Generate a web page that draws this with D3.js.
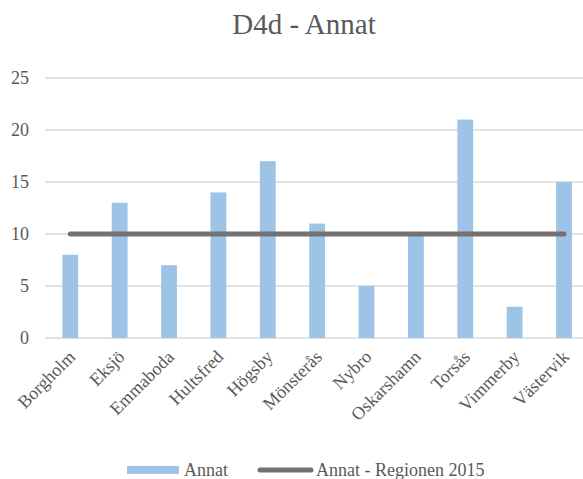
<!DOCTYPE html>
<html><head><meta charset="utf-8">
<script src="https://cdn.jsdelivr.net/npm/d3@7"></script>
<style>body{margin:0;background:#fff}svg{display:block}</style>
</head><body>
<script>
const categories = ["Borgholm","Eksjö","Emmaboda","Hultsfred","Högsby","Mönsterås","Nybro","Oskarshamn","Torsås","Vimmerby","Västervik"];
const annat = [8,13,7,14,17,11,5,10,21,3,15];
const regionen = [10,10,10,10,10,10,10,10,10,10,10];
const yTicks = [0,5,10,15,20,25];
const title = "D4d - Annat";
const seriesNames = ["Annat","Annat - Regionen 2015"];

const FONT = "'Liberation Serif', 'Times New Roman', Tinos, 'DejaVu Serif', serif";
const W=583,H=479;
const svg=d3.select("body").append("svg").attr("width",W).attr("height",H).style("font-family",FONT);
const x=d3.scaleBand().domain(categories).range([45.6,588.7]).paddingInner(0.68).paddingOuter(0.34);
const y=d3.scaleLinear().domain([0,25]).range([338,78]);

svg.append("text").attr("x",304).attr("y",34).attr("text-anchor","middle").attr("font-size",29).attr("fill","#595959").text(title);

svg.append("g").selectAll("line").data(yTicks).join("line")
  .attr("x1",45).attr("x2",W).attr("y1",d=>y(d)).attr("y2",d=>y(d))
  .attr("stroke","#d9d9d9").attr("stroke-width",1.3);
svg.append("g").selectAll("text").data(yTicks).join("text")
  .attr("x",29).attr("y",d=>y(d)+6).attr("text-anchor","end").attr("font-size",18).attr("fill","#595959").text(d=>d);

svg.append("g").selectAll("rect").data(annat).join("rect")
  .attr("x",(d,i)=>x(categories[i])).attr("width",x.bandwidth())
  .attr("y",d=>y(d)).attr("height",d=>y(0)-y(d)).attr("fill","#9dc3e6");

const line=d3.line().x((d,i)=>x(categories[i])+x.bandwidth()/2).y(d=>y(d));
svg.append("path").datum(regionen).attr("d",line).attr("fill","none")
  .attr("stroke","#767171").attr("stroke-width",5).attr("stroke-linecap","round");

svg.append("g").selectAll("text").data(categories).join("text")
  .attr("transform",d=>`translate(${x(d)+x.bandwidth()/2+6},${358}) rotate(-45)`)
  .attr("text-anchor","end").attr("font-size",18).attr("fill","#595959").text(d=>d);

// legend
const lg=svg.append("g");
lg.append("rect").attr("x",127).attr("y",466).attr("width",52).attr("height",8).attr("fill","#9dc3e6");
lg.append("text").attr("x",184).attr("y",476).attr("font-size",18).attr("fill","#595959").text(seriesNames[0]);
lg.append("line").attr("x1",260).attr("x2",311).attr("y1",470).attr("y2",470).attr("stroke","#767171").attr("stroke-width",5).attr("stroke-linecap","round");
lg.append("text").attr("x",316).attr("y",476).attr("font-size",18).attr("fill","#595959").text(seriesNames[1]);
</script>
</body></html>
